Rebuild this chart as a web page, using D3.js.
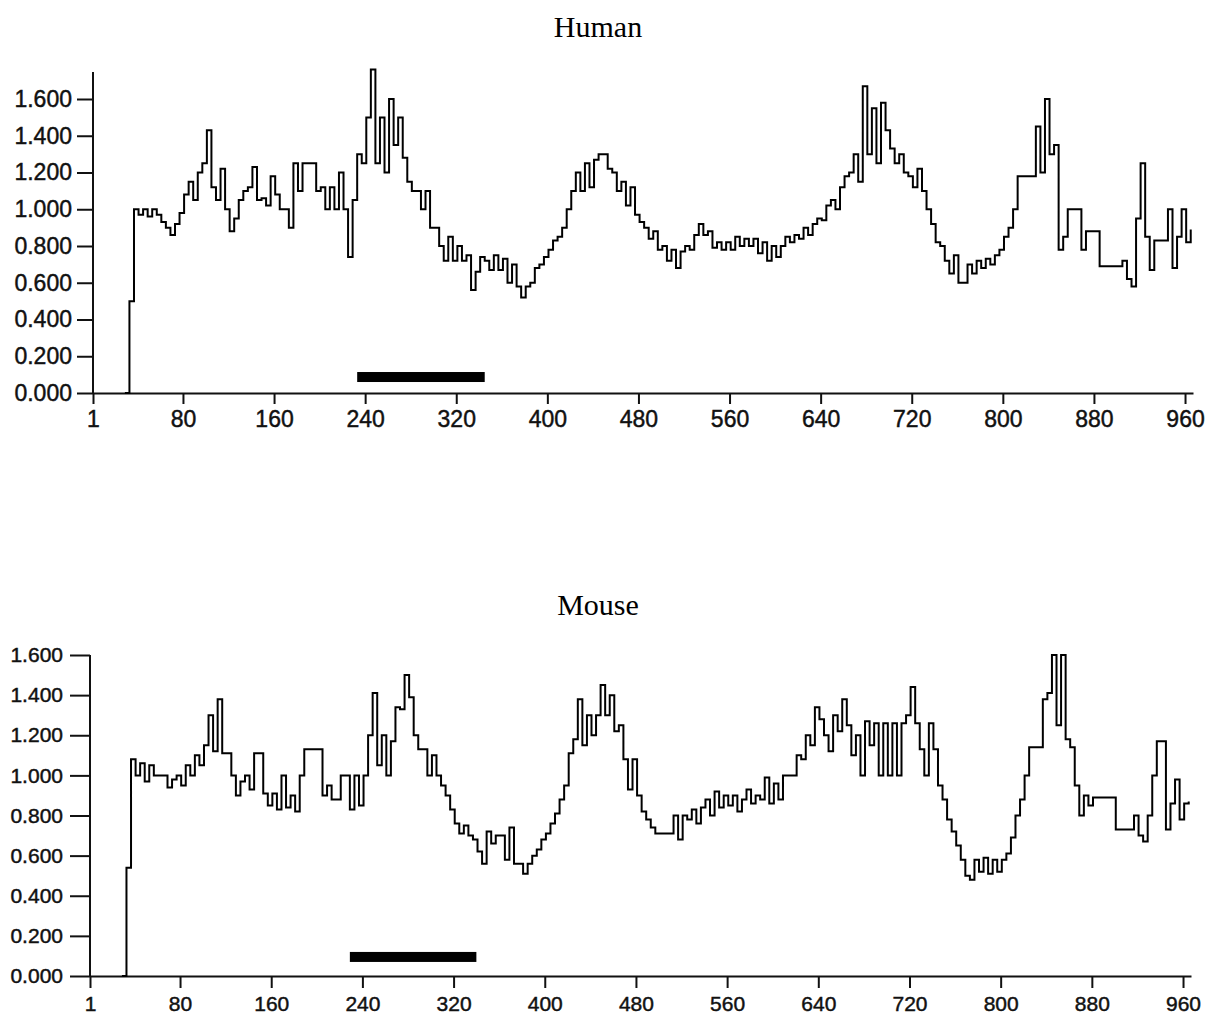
<!DOCTYPE html>
<html><head><meta charset="utf-8">
<script src="https://cdn.jsdelivr.net/npm/d3@7"></script>
<style>body{margin:0;background:#fff} svg{display:block;background:#fff}</style>
</head><body>
<svg id="chart" width="1208" height="1019"></svg>
<script>
// residue positions (one value every 4 positions, starting at 29)
const positions = d3.range(29, 966, 4);

const humanValues = [
  0, 0.50, 1.00, 0.97, 1.00, 0.96, 1.00, 0.97, 0.93, 0.90,
  0.86, 0.92, 0.98, 1.08, 1.15, 1.05, 1.20, 1.25, 1.43, 1.12,
  1.05, 1.22, 1.00, 0.88, 0.95, 1.05, 1.10, 1.12, 1.23, 1.05,
  1.06, 1.02, 1.18, 1.08, 1.00, 1.00, 0.90, 1.25, 1.10, 1.25,
  1.25, 1.25, 1.10, 1.12, 1.00, 1.12, 1.00, 1.20, 1.00, 0.74,
  1.05, 1.30, 1.25, 1.50, 1.76, 1.25, 1.50, 1.20, 1.60, 1.35,
  1.50, 1.28, 1.15, 1.10, 1.10, 1.00, 1.10, 0.90, 0.90, 0.80,
  0.72, 0.85, 0.72, 0.80, 0.72, 0.75, 0.56, 0.66, 0.74, 0.72,
  0.67, 0.75, 0.67, 0.73, 0.60, 0.70, 0.58, 0.52, 0.58, 0.60,
  0.68, 0.70, 0.74, 0.78, 0.83, 0.85, 0.90, 1.00, 1.10, 1.20,
  1.10, 1.25, 1.12, 1.27, 1.30, 1.30, 1.22, 1.20, 1.10, 1.15,
  1.02, 1.12, 0.97, 0.93, 0.90, 0.84, 0.88, 0.78, 0.80, 0.72,
  0.78, 0.68, 0.77, 0.80, 0.78, 0.86, 0.92, 0.86, 0.88, 0.79,
  0.82, 0.78, 0.82, 0.78, 0.85, 0.80, 0.84, 0.80, 0.84, 0.76,
  0.82, 0.72, 0.80, 0.74, 0.80, 0.85, 0.82, 0.86, 0.84, 0.90,
  0.86, 0.92, 0.95, 0.94, 1.02, 1.05, 1.00, 1.12, 1.18, 1.20,
  1.30, 1.15, 1.67, 1.30, 1.55, 1.25, 1.58, 1.43, 1.33, 1.25,
  1.30, 1.20, 1.18, 1.12, 1.22, 1.10, 1.00, 0.92, 0.82, 0.80,
  0.72, 0.65, 0.75, 0.60, 0.60, 0.70, 0.65, 0.72, 0.68, 0.73,
  0.70, 0.75, 0.78, 0.85, 0.90, 1.00, 1.18, 1.18, 1.18, 1.18,
  1.45, 1.20, 1.60, 1.30, 1.35, 0.78, 0.85, 1.00, 1.00, 1.00,
  0.78, 0.88, 0.88, 0.88, 0.69, 0.69, 0.69, 0.69, 0.69, 0.72,
  0.62, 0.58, 0.95, 1.25, 0.85, 0.67, 0.83, 0.83, 0.83, 1.00,
  0.68, 0.85, 1.00, 0.82, 0.89
];

const mouseValues = [
  0, 0.54, 1.08, 1.00, 1.06, 0.97, 1.05, 1.00, 1.00, 1.00,
  0.94, 0.98, 1.00, 0.95, 1.05, 1.00, 1.10, 1.05, 1.15, 1.30,
  1.12, 1.38, 1.11, 1.11, 1.00, 0.90, 0.97, 1.00, 0.93, 1.11,
  1.11, 0.91, 0.85, 0.91, 0.83, 1.00, 0.84, 0.90, 0.82, 1.00,
  1.13, 1.13, 1.13, 1.13, 0.90, 0.95, 0.88, 0.88, 1.00, 1.00,
  0.83, 1.00, 0.85, 1.00, 1.20, 1.41, 1.05, 1.20, 1.00, 1.17,
  1.34, 1.33, 1.50, 1.39, 1.20, 1.13, 1.13, 1.00, 1.10, 1.00,
  0.95, 0.90, 0.83, 0.76, 0.71, 0.75, 0.70, 0.68, 0.62, 0.56,
  0.72, 0.66, 0.70, 0.70, 0.58, 0.74, 0.56, 0.56, 0.51, 0.56,
  0.60, 0.63, 0.68, 0.71, 0.76, 0.81, 0.88, 0.95, 1.11, 1.18,
  1.38, 1.15, 1.30, 1.20, 1.30, 1.45, 1.30, 1.40, 1.22, 1.25,
  1.08, 0.93, 1.08, 0.90, 0.82, 0.78, 0.74, 0.71, 0.71, 0.71,
  0.71, 0.80, 0.68, 0.80, 0.78, 0.83, 0.76, 0.84, 0.88, 0.80,
  0.92, 0.84, 0.90, 0.85, 0.90, 0.82, 0.88, 0.93, 0.86, 0.90,
  0.88, 0.99, 0.86, 0.96, 0.88, 1.00, 1.00, 1.00, 1.10, 1.08,
  1.20, 1.15, 1.34, 1.28, 1.20, 1.12, 1.30, 1.22, 1.38, 1.25,
  1.10, 1.20, 1.00, 1.27, 1.15, 1.26, 1.00, 1.26, 1.00, 1.26,
  1.00, 1.26, 1.30, 1.44, 1.26, 1.13, 1.00, 1.26, 1.13, 0.95,
  0.88, 0.78, 0.72, 0.65, 0.58, 0.50, 0.48, 0.58, 0.52, 0.59,
  0.51, 0.58, 0.52, 0.58, 0.61, 0.69, 0.80, 0.88, 1.00, 1.14,
  1.14, 1.14, 1.38, 1.41, 1.60, 1.25, 1.60, 1.18, 1.14, 0.95,
  0.80, 0.90, 0.85, 0.89, 0.89, 0.89, 0.89, 0.89, 0.73, 0.73,
  0.73, 0.73, 0.80, 0.70, 0.67, 0.80, 1.00, 1.17, 1.17, 0.73,
  0.86, 0.98, 0.78, 0.86, 0.87
];

const xTickValues = [1, 80, 160, 240, 320, 400, 480, 560, 640, 720, 800, 880, 960];
const yTickValues = [0, 0.2, 0.4, 0.6, 0.8, 1.0, 1.2, 1.4, 1.6];
const titles = ["Human", "Mouse"];
const barStart = [233, 229];
const barEnd = [345, 340];
const barLevel = [0.087, 0.095];

const svg = d3.select("#chart");

const panels = [
  { title: titles[0], values: humanValues, barStart: barStart[0], barEnd: barEnd[0], barLevel: barLevel[0],
    left: 93, right: 1193, bottom: 393, top: 99, axisTop: 72,
    yTick: 16, yPad: 5, xTick: 11, xPad: 7, fs: 23, titleY: 37 },
  { title: titles[1], values: mouseValues, barStart: barStart[1], barEnd: barEnd[1], barLevel: barLevel[1],
    left: 90, right: 1191, bottom: 976, top: 655, axisTop: 655,
    yTick: 20, yPad: 7, xTick: 12, xPad: 8, fs: 21, titleY: 615 }
];

panels.forEach(p => {
  const x = d3.scaleLinear().domain([1, 967]).range([p.left, p.right]);
  const y = d3.scaleLinear().domain([0, 1.6]).range([p.bottom, p.top]);
  const g = svg.append("g");

  // title
  g.append("text")
    .attr("x", 598).attr("y", p.titleY)
    .attr("text-anchor", "middle")
    .attr("font-family", "'Liberation Serif', 'Times New Roman', serif")
    .attr("font-size", 30)
    .attr("fill", "#000")
    .text(p.title);

  // y axis
  const ya = g.append("g").attr("transform", `translate(${p.left},0)`)
    .call(d3.axisLeft(y).tickValues(yTickValues).tickFormat(d3.format(".3f"))
      .tickSize(p.yTick).tickPadding(p.yPad));
  ya.select(".domain").remove();
  ya.selectAll(".tick line").attr("stroke", "#111").attr("stroke-width", 2);
  ya.selectAll(".tick text").attr("font-family", "'Liberation Sans', Arial, sans-serif")
    .attr("font-size", p.fs).attr("fill", "#111").attr("stroke", "#111").attr("stroke-width", 0.45);
  g.append("line").attr("x1", p.left).attr("x2", p.left)
    .attr("y1", p.bottom).attr("y2", p.axisTop)
    .attr("stroke", "#111").attr("stroke-width", 2);

  // x axis
  const xa = g.append("g").attr("transform", `translate(0,${p.bottom})`)
    .call(d3.axisBottom(x).tickValues(xTickValues).tickFormat(d3.format("d"))
      .tickSize(p.xTick).tickPadding(p.xPad).tickSizeOuter(0));
  xa.select(".domain").attr("stroke", "#111").attr("stroke-width", 2);
  xa.selectAll(".tick line").attr("stroke", "#111").attr("stroke-width", 2);
  xa.selectAll(".tick text").attr("font-family", "'Liberation Sans', Arial, sans-serif")
    .attr("font-size", p.fs).attr("fill", "#111").attr("stroke", "#111").attr("stroke-width", 0.45);

  // highlighted region bar
  g.append("rect")
    .attr("x", x(p.barStart)).attr("width", x(p.barEnd) - x(p.barStart))
    .attr("y", y(p.barLevel) - 5).attr("height", 10)
    .attr("fill", "#000");

  // profile line
  const data = positions.map((pos, i) => ({ pos, v: p.values[i] }));
  const line = d3.line().x(d => x(d.pos)).y(d => y(d.v)).curve(d3.curveStepAfter);
  g.append("path").datum(data)
    .attr("d", line)
    .attr("fill", "none")
    .attr("stroke", "#000")
    .attr("stroke-width", 2)
    .attr("stroke-linejoin", "miter");
});
</script>
</body></html>
